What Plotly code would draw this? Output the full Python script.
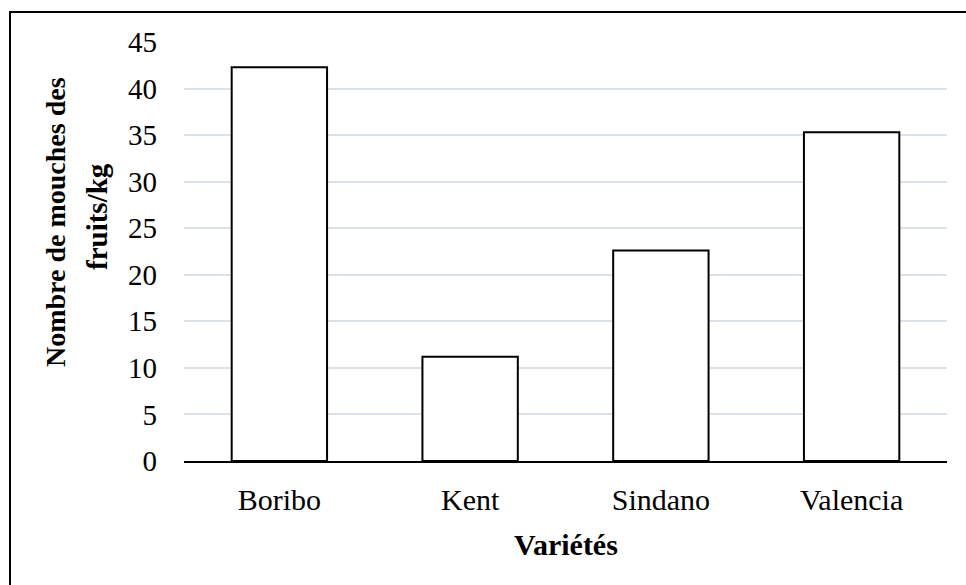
import plotly.graph_objects as go

# Fruit-fly counts per kg of fruit, by mango variety
varietes = ["Boribo", "Kent", "Sindano", "Valencia"]
mouches_par_kg = [42.3, 11.2, 22.6, 35.3]
y_ticks = [0, 5, 10, 15, 20, 25, 30, 35, 40, 45]

W, H = 966, 585
L, R, T, B = 184, 19, 42, 124
pw, ph = W - L - R, H - T - B

def px_x(x):
    return (x - L) / pw

def px_y(y):
    return (H - B - y) / ph

serif = "Liberation Serif"

fig = go.Figure(
    go.Bar(
        x=varietes,
        y=mouches_par_kg,
        marker=dict(color="white", line=dict(color="black", width=2)),
        width=0.5,
    )
)

fig.update_layout(
    width=W,
    height=H,
    margin=dict(l=L, r=R, t=T, b=B),
    paper_bgcolor="white",
    plot_bgcolor="white",
    showlegend=False,
    font=dict(family=serif, color="black", size=29),
    xaxis=dict(
        showline=True,
        linecolor="black",
        linewidth=2,
        ticks="",
        showgrid=False,
        ticklabelstandoff=11,
        tickfont=dict(family=serif, size=30),
    ),
    yaxis=dict(
        range=[0, 45],
        tickvals=y_ticks,
        showgrid=True,
        gridcolor="#dde1e8",
        gridwidth=2,
        zeroline=False,
        showline=False,
        ticks="",
        ticklabelstandoff=26,
        tickfont=dict(family=serif, size=29),
    ),
    annotations=[
        dict(
            text="<b>Nombre de mouches des</b>",
            xref="paper", yref="paper",
            x=px_x(55), y=px_y(222),
            xanchor="center", yanchor="middle",
            textangle=-90, showarrow=False,
            font=dict(family=serif, size=28),
        ),
        dict(
            text="<b>fruits/kg</b>",
            xref="paper", yref="paper",
            x=px_x(97), y=px_y(217),
            xanchor="center", yanchor="middle",
            textangle=-90, showarrow=False,
            font=dict(family=serif, size=29),
        ),
        dict(
            text="<b>Variétés</b>",
            xref="paper", yref="paper",
            x=px_x(566), y=px_y(544),
            xanchor="center", yanchor="middle",
            showarrow=False,
            font=dict(family=serif, size=30),
        ),
    ],
    shapes=[
        dict(
            type="rect",
            xref="paper", yref="paper",
            x0=px_x(10), x1=px_x(972),
            y0=px_y(592), y1=px_y(12),
            line=dict(color="black", width=2),
            fillcolor="rgba(0,0,0,0)",
            layer="below",
        )
    ],
)

fig.write_html("out.html")
